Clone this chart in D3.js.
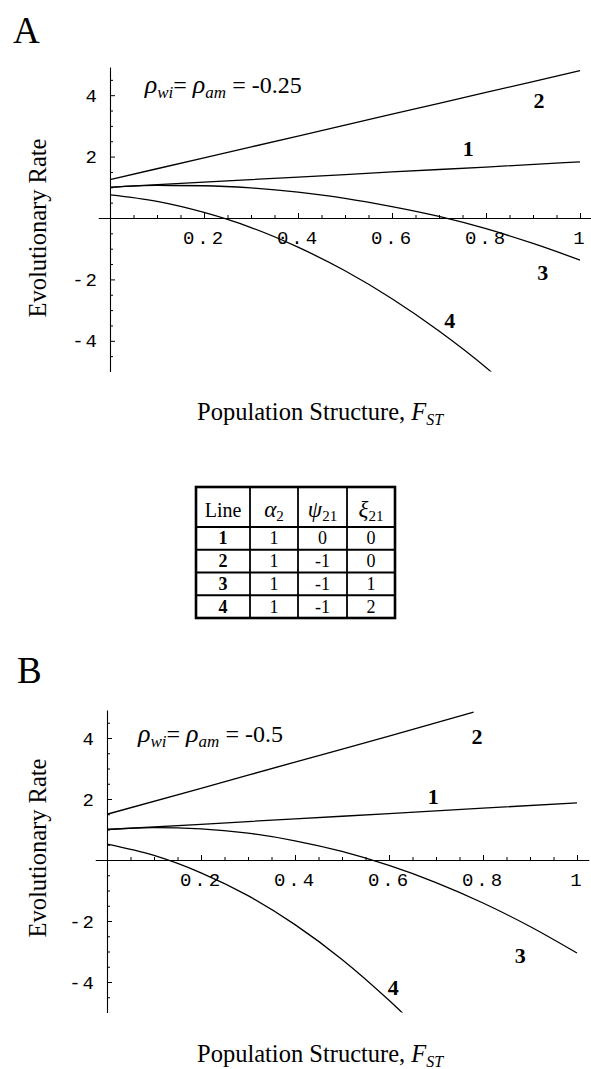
<!DOCTYPE html>
<html>
<head>
<meta charset="utf-8">
<style>
  body { margin: 0; background: #fff; }
  text { fill: #000; }
  .serif { font-family: "Liberation Serif", "DejaVu Serif", serif; }
</style>
<script src="https://d3js.org/d3.v7.min.js"></script>
</head>
<body>
<div id="chart"></div>
<script>

// tick labels
var fstTicks = [0.2, 0.4, 0.6, 0.8, 1];
var rateTicks = [-4, -2, 2, 4];

// curves (rho = -0.25), [F_ST, rate]
var lineA1 = [[0, 1.0], [0.2, 1.17], [0.4, 1.33], [0.6, 1.5], [0.8, 1.66], [1, 1.83]];
var lineA2 = [[0, 1.25], [0.2, 1.96], [0.4, 2.67], [0.6, 3.38], [0.8, 4.09], [1, 4.8]];
var lineA3 = [[0, 1.0], [0.1, 1.06], [0.2, 1.05], [0.3, 0.98], [0.4, 0.84], [0.5, 0.64],
              [0.6, 0.37], [0.7, 0.05], [0.8, -0.35], [0.9, -0.83], [1, -1.37]];
var lineA4 = [[0, 0.75], [0.1, 0.54], [0.2, 0.18], [0.3, -0.31], [0.4, -0.95], [0.5, -1.72],
              [0.6, -2.63], [0.7, -3.68], [0.8, -4.87], [0.85, -5.55]];

// curves (rho = -0.5)
var lineB1 = [[0, 1.0], [0.2, 1.17], [0.4, 1.35], [0.6, 1.52], [0.8, 1.7], [1, 1.87]];
var lineB2 = [[0, 1.5], [0.2, 2.35], [0.4, 3.21], [0.6, 4.06], [0.78, 4.85]];
var lineB3 = [[0, 1.0], [0.1, 1.06], [0.2, 1.02], [0.3, 0.88], [0.4, 0.63], [0.5, 0.28],
              [0.6, -0.18], [0.7, -0.74], [0.8, -1.41], [0.9, -2.18], [1, -3.05]];
var lineB4 = [[0, 0.52], [0.1, 0.15], [0.2, -0.42], [0.3, -1.17], [0.4, -2.12], [0.5, -3.26],
              [0.6, -4.6], [0.65, -5.33]];

var lineNames = ["1", "2", "3", "4"];

// parameter table
var tableLine = ["1", "2", "3", "4"];
var alpha2 = ["1", "1", "1", "1"];
var psi21 = ["0", "-1", "-1", "-1"];
var xi21 = ["0", "0", "1", "2"];

var W = 591, H = 1069;

var svg = d3.select("#chart").append("svg")
    .attr("width", W)
    .attr("height", H)
    .style("background", "#fff");

var panels = [
    { letter: "A", rho: "-0.25", lines: [lineA1, lineA2, lineA3, lineA4],
      x0: 110, zeroY: 218, pxX: 470, pxY: 30.7,
      labelPos: [[0.762, 2.28], [0.913, 3.84], [0.921, -1.76], [0.723, -3.32]],
      rhoPos: [0.074, 4.07], yLabelY: 228, xLabelY: 420, letterPos: [13, 43] },
    { letter: "B", rho: "-0.5", lines: [lineB1, lineB2, lineB3, lineB4],
      x0: 107, zeroY: 860, pxX: 470, pxY: 30.5,
      labelPos: [[0.694, 2.10], [0.787, 4.07], [0.879, -3.11], [0.609, -4.16]],
      rhoPos: [0.066, 3.87], yLabelY: 848, xLabelY: 1062, letterPos: [17, 683] }
];

panels.forEach(function(p, pi) {

    var x = d3.scaleLinear()
        .domain([-0.025, 1.025])
        .range([p.x0 - 0.025 * p.pxX, p.x0 + 1.025 * p.pxX]);
    var y = d3.scaleLinear()
        .domain([-5, 4.92])
        .range([p.zeroY + 5 * p.pxY, p.zeroY - 4.92 * p.pxY]);

    var g = svg.append("g");

    // panel letter
    g.append("text")
        .attr("class", "serif")
        .attr("x", p.letterPos[0])
        .attr("y", p.letterPos[1])
        .attr("font-size", 37)
        .text(p.letter);

    // minor ticks
    var xMinor = d3.range(0.05, 1.001, 0.05).filter(function(v) { return Math.abs(v * 5 - Math.round(v * 5)) > 1e-6; });
    var yMinor = d3.range(-4.5, 4.6, 0.5).filter(function(v) { return Math.abs(v / 2 - Math.round(v / 2)) > 1e-6; });

    var xAxisG = g.append("g").attr("transform", "translate(0," + y(0) + ")");
    xAxisG.append("g")
        .call(d3.axisBottom(x).tickValues(xMinor).tickFormat("").tickSizeInner(-3).tickSizeOuter(0))
        .call(function(s) { s.select(".domain").remove(); });
    xAxisG.append("g")
        .call(d3.axisBottom(x).tickValues(fstTicks).tickFormat(function(d) { return String(d); })
            .tickSizeInner(-5).tickSizeOuter(0).tickPadding(13))
        .call(function(s) {
            s.select(".domain").attr("stroke-width", 1.1);
            s.selectAll("text").attr("font-size", 19).attr("letter-spacing", 3)
                .attr("font-family", "'Liberation Mono', monospace").attr("fill", "#000");
        });

    var yAxisG = g.append("g").attr("transform", "translate(" + x(0) + ",0)");
    yAxisG.append("g")
        .call(d3.axisLeft(y).tickValues(yMinor).tickFormat("").tickSizeInner(-3).tickSizeOuter(0))
        .call(function(s) { s.select(".domain").remove(); });
    yAxisG.append("g")
        .call(d3.axisLeft(y).tickValues(rateTicks).tickFormat(function(d) { return String(d); })
            .tickSizeInner(-5).tickSizeOuter(0).tickPadding(11))
        .call(function(s) {
            s.select(".domain").attr("stroke-width", 1.1);
            s.selectAll("text").attr("font-size", 19).attr("letter-spacing", 2)
                .attr("font-family", "'Liberation Mono', monospace").attr("fill", "#000");
        });

    // curves, clipped to the plot range
    var clipId = "clip" + pi;
    g.append("clipPath").attr("id", clipId)
        .append("rect")
        .attr("x", x(-0.025)).attr("y", y(4.92))
        .attr("width", x(1.025) - x(-0.025))
        .attr("height", y(-5) - y(4.92));

    var line = d3.line()
        .curve(d3.curveMonotoneX)
        .x(function(d) { return x(d[0]); })
        .y(function(d) { return y(d[1]); });

    g.append("g").attr("clip-path", "url(#" + clipId + ")")
        .selectAll("path")
        .data(p.lines)
        .join("path")
        .attr("fill", "none")
        .attr("stroke", "#000")
        .attr("stroke-width", 1.3)
        .attr("d", line);

    // line numbers
    g.selectAll(".lnum")
        .data(lineNames)
        .join("text")
        .attr("class", "serif")
        .attr("x", function(d, i) { return x(p.labelPos[i][0]); })
        .attr("y", function(d, i) { return y(p.labelPos[i][1]); })
        .attr("dy", "0.35em")
        .attr("text-anchor", "middle")
        .attr("font-size", 22)
        .attr("font-weight", "bold")
        .text(function(d) { return d; });

    // rho annotation
    var rt = g.append("text")
        .attr("class", "serif")
        .attr("x", x(p.rhoPos[0]))
        .attr("y", y(p.rhoPos[1]))
        .attr("font-size", 24);
    rt.append("tspan").attr("font-style", "italic").attr("font-size", 26).text("\u03C1");
    rt.append("tspan").attr("font-style", "italic").attr("font-size", 17).attr("dy", 5).text("wi");
    rt.append("tspan").attr("dy", -5).text("= ");
    rt.append("tspan").attr("font-style", "italic").attr("font-size", 26).text("\u03C1");
    rt.append("tspan").attr("font-style", "italic").attr("font-size", 17).attr("dy", 5).text("am");
    rt.append("tspan").attr("dy", -5).text(" = " + p.rho);

    // axis titles
    g.append("text")
        .attr("class", "serif")
        .attr("transform", "translate(46," + p.yLabelY + ") rotate(-90)")
        .attr("text-anchor", "middle")
        .attr("font-size", 24.5)
        .text("Evolutionary Rate");

    var xt = g.append("text")
        .attr("class", "serif")
        .attr("x", 197)
        .attr("y", p.xLabelY)
        .attr("font-size", 24.5);
    xt.append("tspan").text("Population Structure, ");
    xt.append("tspan").attr("font-style", "italic").text("F");
    xt.append("tspan").attr("font-style", "italic").attr("font-size", 16).attr("dy", 5).text("ST");
});

// parameter table
var colEdges = [196, 250, 298, 347, 395];
var rowEdges = [487, 527, 549.75, 572.5, 595.25, 618];
var tg = svg.append("g").attr("class", "serif");

tg.selectAll(".vline")
    .data(colEdges.slice(1, -1))
    .join("line")
    .attr("x1", function(d) { return d; }).attr("x2", function(d) { return d; })
    .attr("y1", rowEdges[0]).attr("y2", rowEdges[rowEdges.length - 1])
    .attr("stroke", "#000").attr("stroke-width", 1.8);
tg.selectAll(".hline")
    .data(rowEdges.slice(1, -1))
    .join("line")
    .attr("x1", colEdges[0]).attr("x2", colEdges[colEdges.length - 1])
    .attr("y1", function(d) { return d; }).attr("y2", function(d) { return d; })
    .attr("stroke", "#000").attr("stroke-width", 2);
tg.append("rect")
    .attr("x", colEdges[0]).attr("y", rowEdges[0])
    .attr("width", colEdges[4] - colEdges[0])
    .attr("height", rowEdges[5] - rowEdges[0])
    .attr("fill", "none").attr("stroke", "#000").attr("stroke-width", 2.6);

function colMid(i) { return (colEdges[i] + colEdges[i + 1]) / 2; }

var headBase = 517;
tg.append("text").attr("x", colMid(0)).attr("y", headBase).attr("text-anchor", "middle")
    .attr("font-size", 20).text("Line");
[["\u03B1", "2"], ["\u03C8", "21"], ["\u03BE", "21"]].forEach(function(h, i) {
    var t = tg.append("text").attr("x", colMid(i + 1)).attr("y", headBase)
        .attr("text-anchor", "middle").attr("font-size", 23);
    t.append("tspan").attr("font-style", "italic").text(h[0]);
    t.append("tspan").attr("font-size", 15).attr("dy", 4).text(h[1]);
});

[tableLine, alpha2, psi21, xi21].forEach(function(col, ci) {
    tg.selectAll(".c" + ci)
        .data(col)
        .join("text")
        .attr("x", colMid(ci))
        .attr("y", function(d, i) { return (rowEdges[i + 1] + rowEdges[i + 2]) / 2; })
        .attr("dy", "0.34em")
        .attr("text-anchor", "middle")
        .attr("font-size", 18)
        .attr("font-weight", ci === 0 ? "bold" : "normal")
        .text(function(d) { return d; });
});

</script>
</body>
</html>
